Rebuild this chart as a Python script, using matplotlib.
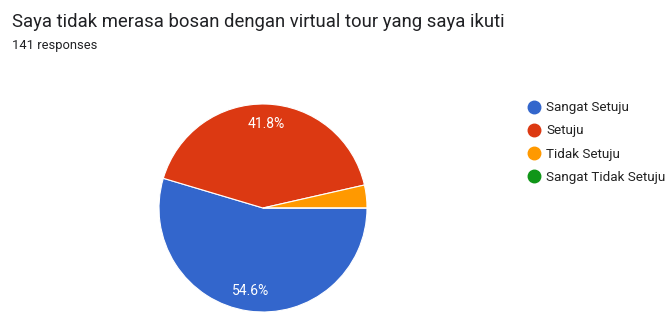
import matplotlib.pyplot as plt
from matplotlib.lines import Line2D

plt.rcParams['font.family'] = ['Roboto', 'DejaVu Sans']

labels = ['Sangat Setuju', 'Setuju', 'Tidak Setuju', 'Sangat Tidak Setuju']
counts = [77, 59, 5, 0]
colors = ['#3366cc', '#dc3912', '#ff9900', '#109618']

W, H = 667, 320
fig = plt.figure(figsize=(W / 100, H / 100), dpi=100)

fig.text(12 / W, 1 - 22 / H, 'Saya tidak merasa bosan dengan virtual tour yang saya ikuti',
         fontsize=13.3, color='#202124', va='center', ha='left')
fig.text(12 / W, 1 - 45 / H, '141 responses', fontsize=9.3, color='#202124',
         va='center', ha='left')

# pie centred at (263, 208) px, radius 104 px
cx, cy, r = 263, 208, 104
ax = fig.add_axes([(cx - r) / W, (H - cy - r) / H, 2 * r / W, 2 * r / H])


def pct(p):
    return f'{p:.1f}%' if p >= 5 else ''


ax.pie(counts, colors=colors, startangle=0, counterclock=False,
       autopct=pct, pctdistance=0.81,
       wedgeprops=dict(edgecolor='white', linewidth=0.8),
       textprops=dict(color='white', fontsize=10))
ax.set_xlim(-1, 1)
ax.set_ylim(-1, 1)
ax.set_aspect('auto')
ax.axis('off')

handles = [Line2D([], [], marker='o', linestyle='', markersize=9,
                  markerfacecolor=c, markeredgecolor=c) for c in colors]
fig.legend(handles, labels, loc='upper left', bbox_to_anchor=(519 / W, 1 - 96 / H),
           frameon=False, fontsize=9.7, handletextpad=0.1, labelspacing=0.75,
           handlelength=1.5, labelcolor='#222222', borderaxespad=0)

fig.savefig('out.png', dpi=100, facecolor='white')
